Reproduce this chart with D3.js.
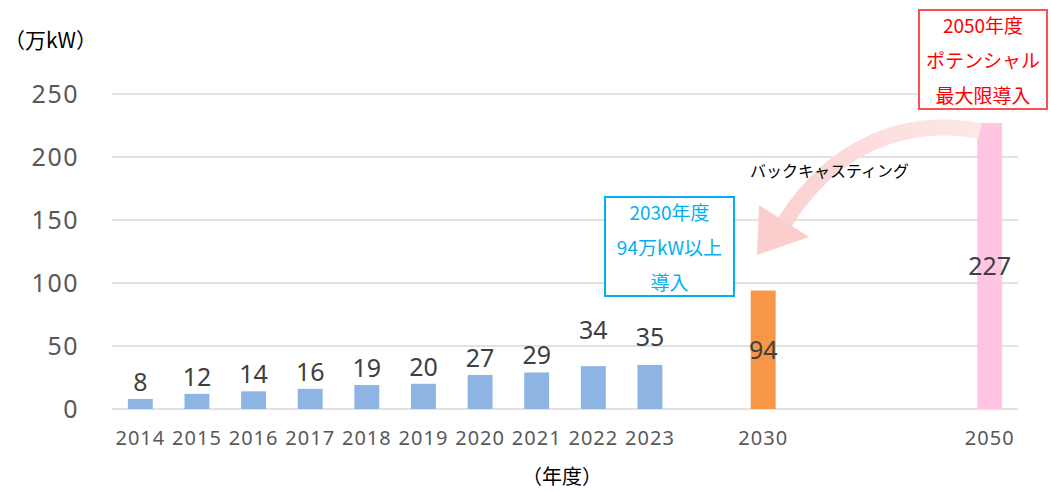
<!DOCTYPE html>
<html>
<head>
<meta charset="utf-8">
<script src="https://cdn.jsdelivr.net/npm/d3@7"></script>
<style>
  body { margin: 0; background: #fff; }
  text { font-family: "Noto Sans", "Noto Sans CJK JP", sans-serif; }
  .jp { font-family: "Noto Sans CJK JP", sans-serif; }
</style>
</head>
<body>
<div id="chart"></div>
<script>
// categories (empty slots keep the spacing between 2023, 2030 and 2050)
var categories = ["2014","2015","2016","2017","2018","2019","2020","2021","2022","2023","g1","2030","g2","g3","g4","2050"];
var years  = ["2014","2015","2016","2017","2018","2019","2020","2021","2022","2023","2030","2050"];
var values = [8, 12, 14, 16, 19, 20, 27, 29, 34, 35, 94, 227];
var kinds  = ["past","past","past","past","past","past","past","past","past","past","target","potential"];
var yTicks = [0, 50, 100, 150, 200, 250];

var colors = {past: "#8EB4E3", target: "#F79646", potential: "#FFC5E3"};
// labels moved up by hand in the original
var labelNudge = {"2022": -19, "2023": -11};

var width = 1051, height = 491;
var margin = {top: 94, right: 33, bottom: 82, left: 112};
var w = width - margin.left - margin.right;
var h = height - margin.top - margin.bottom;

var svg = d3.select("#chart").append("svg")
    .attr("width", width)
    .attr("height", height);

var g = svg.append("g")
    .attr("transform", "translate(" + margin.left + "," + margin.top + ")");

var x = d3.scaleBand().domain(categories).range([0, w]).paddingInner(0.56).paddingOuter(0.28);
var y = d3.scaleLinear().domain([0, 250]).range([h, 0]);

// gridlines
g.selectAll(".grid").data(yTicks).enter().append("line")
    .attr("x1", 0).attr("x2", w)
    .attr("y1", function(d){ return y(d); })
    .attr("y2", function(d){ return y(d); })
    .attr("stroke", "#D9D9D9")
    .attr("stroke-width", 1.5);

// y axis labels
var yAxis = d3.axisLeft(y).tickValues(yTicks).tickSize(0).tickPadding(33);
g.append("g").call(yAxis)
    .call(function(s){ s.select(".domain").remove(); })
    .selectAll("text")
    .attr("fill", "#595959")
    .style("font-size", "25px")
    .style("letter-spacing", "1.5px");

// x axis labels
var xAxis = d3.axisBottom(x).tickValues(years).tickSize(0).tickPadding(22);
g.append("g").attr("transform", "translate(0," + h + ")").call(xAxis)
    .call(function(s){ s.select(".domain").remove(); })
    .selectAll("text")
    .attr("fill", "#595959")
    .style("font-size", "20px")
    .style("letter-spacing", "1px");

var data = years.map(function(d, i){ return {year: d, value: values[i], kind: kinds[i]}; });

// bars
g.selectAll(".bar").data(data).enter().append("rect")
    .attr("x", function(d){ return x(d.year); })
    .attr("width", x.bandwidth())
    .attr("y", function(d){ return y(d.value); })
    .attr("height", function(d){ return h - y(d.value); })
    .attr("fill", function(d){ return colors[d.kind]; });

// value labels
g.selectAll(".lbl").data(data).enter().append("text")
    .attr("x", function(d){ return x(d.year) + x.bandwidth() / 2; })
    .attr("y", function(d){
        if (d.kind == "past") return y(d.value) - 8 + (labelNudge[d.year] || 0);
        return (y(d.value) + h) / 2 + 9;
    })
    .attr("text-anchor", "middle")
    .attr("fill", "#404040")
    .style("font-size", "25px")
    .text(function(d){ return d.value; });

// axis titles
svg.append("text").attr("class", "jp")
    .attr("x", 4).attr("y", 48)
    .attr("fill", "#000")
    .style("font-size", "21px")
    .text("（万kW）");

svg.append("text").attr("class", "jp")
    .attr("x", 562).attr("y", 484)
    .attr("text-anchor", "middle")
    .attr("fill", "#000")
    .style("font-size", "20px")
    .text("（年度）");

// curved backcasting arrow
var defs = svg.append("defs");
var grad = defs.append("linearGradient").attr("id", "arrowGrad")
    .attr("gradientUnits", "userSpaceOnUse")
    .attr("x1", 980).attr("y1", 125).attr("x2", 760).attr("y2", 250);
grad.append("stop").attr("offset", "0%").attr("stop-color", "#FDE8E8");
grad.append("stop").attr("offset", "100%").attr("stop-color", "#FBCDCD");

svg.append("path")
    .attr("d", "M980,131 C900,116 830,150 785,222")
    .attr("fill", "none")
    .attr("stroke", "url(#arrowGrad)")
    .attr("stroke-width", 16);
svg.append("path")
    .attr("d", "M757,255 L759,205 L809,237 Z")
    .attr("fill", "#FBCDCD");

svg.append("text").attr("class", "jp")
    .attr("x", 750).attr("y", 177)
    .attr("fill", "#000")
    .style("font-size", "16px")
    .text("バックキャスティング");

// annotation boxes
function noteBox(x0, y0, bw, bh, stroke, color, lines) {
    svg.append("rect")
        .attr("x", x0).attr("y", y0)
        .attr("width", bw).attr("height", bh)
        .attr("fill", "#fff")
        .attr("stroke", stroke)
        .attr("stroke-width", 2);
    lines.forEach(function(t, i){
        svg.append("text").attr("class", "jp")
            .attr("x", x0 + bw / 2)
            .attr("y", y0 + 23 + i * 35)
            .attr("text-anchor", "middle")
            .attr("fill", color)
            .style("font-size", "19px")
            .text(t);
    });
}

noteBox(605, 197, 129, 99, "#00B0F0", "#00B0F0", ["2030年度", "94万kW以上", "導入"]);
noteBox(919, 10, 128, 99, "#FF5050", "#FF0000", ["2050年度", "ポテンシャル", "最大限導入"]);
</script>
</body>
</html>
